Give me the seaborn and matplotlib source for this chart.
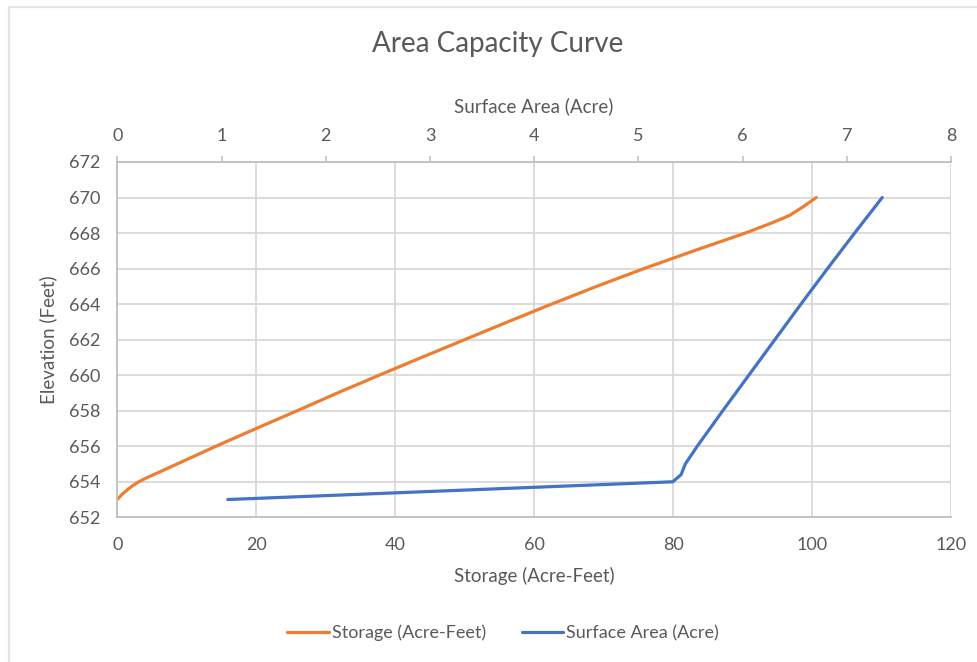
import matplotlib
matplotlib.use("Agg")
import matplotlib.pyplot as plt
import seaborn as sns
import pandas as pd
from matplotlib.patches import Rectangle

# ---- data ----
storage_elev = [653, 653.3, 653.6, 653.8, 654, 654.2, 654.5, 655, 656, 657, 658, 659,
                660, 661, 662, 663, 664, 665, 666, 667, 668, 668.6, 669, 669.5, 670]
storage = [0, 0.7, 1.6, 2.3, 3.1, 4.1, 5.8, 8.6, 14.2, 20.0, 25.9, 31.7,
           37.7, 43.8, 50.0, 56.2, 62.5, 69.0, 75.8, 83.0, 90.4, 94.4, 96.8, 98.8, 100.6]

area_elev = [653, 654, 654.4, 655, 656, 658, 660, 662, 664, 666, 668, 670]
area = [1.06, 5.33, 5.41, 5.45, 5.565, 5.81, 6.06, 6.31, 6.56, 6.815, 7.075, 7.34]

storage_ticks = [0, 20, 40, 60, 80, 100, 120]
area_ticks = [0, 1, 2, 3, 4, 5, 6, 7, 8]
elev_ticks = [652, 654, 656, 658, 660, 662, 664, 666, 668, 670, 672]

title = "Area Capacity Curve"
label_storage = "Storage (Acre-Feet)"
label_area = "Surface Area (Acre)"
label_elev = "Elevation (Feet)"

ORANGE = "#ED7D31"
BLUE = "#4472C4"
GRID = "#D9D9D9"
SPINE = "#BFBFBF"
TXT = "#595959"

sns.set_theme(style="white")
plt.rcParams["font.family"] = ["Lato", "DejaVu Sans"]

fig = plt.figure(figsize=(9.77, 6.62), dpi=100)
ax = fig.add_axes([117.3 / 977, 1 - 517.3 / 662, (951 - 117.3) / 977, (517.3 - 162) / 662])

df_s = pd.DataFrame({"Storage": storage, "Elevation": storage_elev})
df_a = pd.DataFrame({"Area": area, "Elevation": area_elev})

sns.lineplot(data=df_s, x="Storage", y="Elevation", ax=ax, color=ORANGE,
             linewidth=2.3, sort=False, estimator=None, label=label_storage, legend=False)
ax.set_xlim(0, 120)
ax.set_ylim(652, 672)
ax.set_xticks(storage_ticks)
ax.set_yticks(elev_ticks)
ax.grid(True, color=GRID, linewidth=1.3)
ax.set_axisbelow(True)

ax2 = ax.twiny()
sns.lineplot(data=df_a, x="Area", y="Elevation", ax=ax2, color=BLUE,
             linewidth=2.3, sort=False, estimator=None, label=label_area, legend=False)
ax2.set_xlim(0, 8)
ax2.set_xticks(area_ticks)
ax2.grid(False)

for a in (ax, ax2):
    for s in a.spines.values():
        s.set_visible(False)
ax.spines["left"].set_visible(True)
ax.spines["left"].set_color(SPINE)
ax.spines["left"].set_linewidth(1.3)
ax.spines["bottom"].set_visible(True)
ax.spines["bottom"].set_color(SPINE)
ax.spines["bottom"].set_linewidth(1.3)
ax2.spines["top"].set_visible(True)
ax2.spines["top"].set_color(SPINE)
ax2.spines["top"].set_linewidth(1.3)

ax.tick_params(axis="y", left=True, length=0, pad=12, labelsize=13, labelcolor=TXT)
ax.tick_params(axis="x", bottom=True, length=0, pad=14, labelsize=13, labelcolor=TXT)
ax2.tick_params(axis="x", top=True, length=4, width=1.1, color=SPINE, pad=9,
                labelsize=13, labelcolor=TXT)

ax.set_xlabel(label_storage, fontsize=13.5, color=TXT)
ax.xaxis.set_label_coords(0.5, -0.14)
ax.set_ylabel(label_elev, fontsize=13.5, color=TXT)
ax.yaxis.set_label_coords(-0.072, 0.5)
ax2.set_xlabel(label_area, fontsize=13.5, color=TXT)
ax2.xaxis.set_label_coords(0.5, 1.14)

fig.text(498 / 977, 1 - 44 / 662, title, ha="center", va="center",
         fontsize=20, color=TXT)

handles = [ax.get_lines()[0], ax2.get_lines()[0]]
fig.legend(handles=handles, labels=[label_storage, label_area],
           loc="center", bbox_to_anchor=(503 / 977, 1 - 633 / 662), ncol=2,
           frameon=False, fontsize=13, handlelength=2.3, handletextpad=0.15,
           columnspacing=2.0, labelcolor=TXT)

# outer chart-area frame (left and top edges visible in the reference)
fig.patches.append(Rectangle((9 / 977, -0.1), 1.2, 1 - 7 / 662 + 0.1,
                             transform=fig.transFigure, fill=False,
                             edgecolor="#E3E3E3", linewidth=1.6))

fig.savefig("out.png", dpi=100)
